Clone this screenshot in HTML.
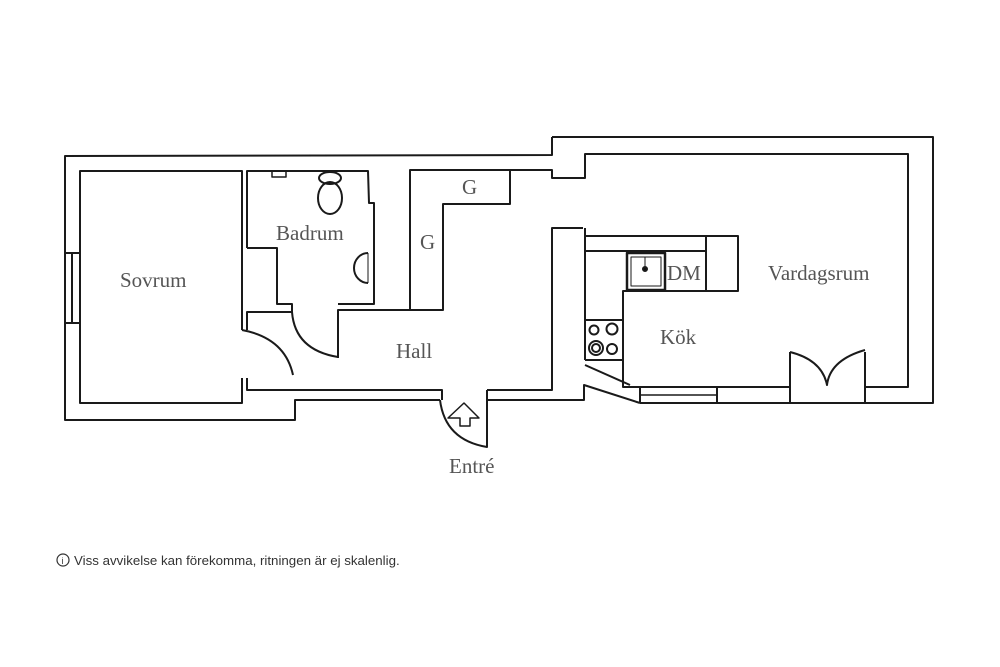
<!DOCTYPE html>
<html><head><style>
body{margin:0;background:#fff;}
svg{display:block}
text{font-family:"Liberation Serif",serif;fill:#555;font-size:21px}
</style></head><body>
<svg width="1000" height="667" viewBox="0 0 1000 667" xmlns="http://www.w3.org/2000/svg">
<g fill="none" stroke="#1a1a1a" stroke-width="2" stroke-linejoin="round">
<polyline points="552,137 933,137 933,403 640,403"/>
<polyline points="552,137 552,155 65,156 65,420 295,420 295,400 440,400"/>
<polyline points="487,400 584,400 584,385 640,403"/>
<polyline points="487,390 487,400"/>
<polyline points="65,253 80,253 80,323 65,323"/>
<line x1="72" y1="253" x2="72" y2="323"/>
<polyline points="242,330 242,171 80,171 80,403 242,403 242,378"/>
<polyline points="247,248 247,171 368,171 369,203 374,203 374,304 338,304"/>
<polyline points="247,248 277,248 277,304 292,304 292,312 247,312 247,330"/>
<path d="M292,312 Q295,350 338,357"/>
<polyline points="338,358 338,310 443,310 443,204 510,204 510,170 410,170 410,310"/>
<polyline points="510,170 552,170 552,178 585,178 585,154 908,154 908,387 865,387"/>
<path d="M242,330 Q285,338 293,375"/>
<polyline points="247,378 247,390 442,390 442,400"/>
<polyline points="487,390 552,390 552,228 583,228"/>
<path d="M440,400 Q445,440 487,447 L487,400"/>
<polygon points="448,418 464,403 479,418 470,418 470,426 460,426 460,418" stroke-width="1.5"/>
<polyline points="585,228 585,360"/>
<polyline points="585,236 738,236 738,291 623,291 623,387 790,387"/>
<line x1="706" y1="236" x2="706" y2="291"/>
<line x1="585" y1="251" x2="706" y2="251"/>
<line x1="585" y1="320" x2="623" y2="320"/>
<line x1="585" y1="360" x2="623" y2="360"/>
<polyline points="585,365 630,385"/>
<rect x="627" y="253" width="38" height="37" stroke-width="2.5"/>
<rect x="631" y="257" width="30" height="29" stroke-width="1"/>
<line x1="645" y1="257" x2="645" y2="268" stroke-width="1"/>
<circle cx="645" cy="269" r="2" fill="#111"/>
<circle cx="594" cy="330" r="4.5"/><circle cx="612" cy="329" r="5.5"/>
<circle cx="596" cy="348" r="7"/><circle cx="596" cy="348" r="4"/><circle cx="612" cy="349" r="5"/>
<line x1="640" y1="395" x2="717" y2="395" stroke-width="1.5"/>
<line x1="640" y1="387" x2="640" y2="403"/>
<line x1="717" y1="387" x2="717" y2="403"/>
<polyline points="790,352 790,403"/>
<polyline points="865,352 865,403"/>
<path d="M790,352 Q822,360 827,385 Q830,360 865,350"/>
<ellipse cx="330" cy="198" rx="12" ry="16"/>
<ellipse cx="330" cy="178" rx="11" ry="6"/>
<path d="M368,253 A14,15 0 1,0 368,283" />
<line x1="368" y1="253" x2="368" y2="283" stroke-width="1"/>
<rect x="272" y="171" width="14" height="6" stroke-width="1.5"/>
</g>
<text x="120" y="287">Sovrum</text>
<text x="276" y="240">Badrum</text>
<text x="462" y="194">G</text>
<text x="420" y="249">G</text>
<text x="396" y="358">Hall</text>
<text x="667" y="280">DM</text>
<text x="768" y="280">Vardagsrum</text>
<text x="660" y="344">Kök</text>
<text x="449" y="473">Entré</text>
<circle cx="63" cy="560" r="6" fill="none" stroke="#333" stroke-width="1.2"/>
<text x="61.5" y="564" style="font-family:'Liberation Sans',sans-serif;font-size:9px;fill:#333">i</text>
<text x="74" y="565" style="font-family:'Liberation Sans',sans-serif;font-size:13.3px;fill:#333">Viss avvikelse kan förekomma, ritningen är ej skalenlig.</text>
</svg>
</body></html>
